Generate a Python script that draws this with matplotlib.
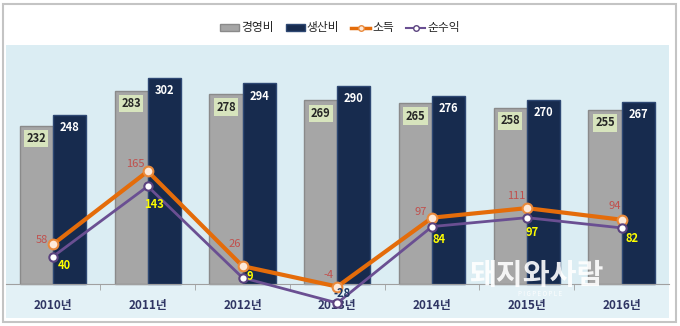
import numpy as np
import matplotlib
matplotlib.use("Agg")
import matplotlib.pyplot as plt
from matplotlib.patches import Rectangle, Patch
from matplotlib.lines import Line2D

plt.rcParams['font.family'] = ['Noto Sans CJK KR', 'DejaVu Sans']

#===================== data =====================
years = ['2010년', '2011년', '2012년', '2013년', '2014년', '2015년', '2016년']
mgmt_cost = [232, 283, 278, 269, 265, 258, 255]     # 경영비
prod_cost = [248, 302, 294, 290, 276, 270, 267]     # 생산비
income = [58, 165, 26, -4, 97, 111, 94]             # 소득
net_profit = [40, 143, 9, -28, 84, 97, 82]          # 순수익

# label offsets in pixels (dx, dy)
inc_off = [(-11, 4), (-12, 7), (-8, 22), (-9, 12), (-11, 6), (-11, 12), (-7, 14)]
net_off = [(11, -9), (6, -18), (7, 1), (5, 9), (7, -13), (5, -15), (10, -11)]

#===================== plot =====================
fig = plt.figure(figsize=(6.8, 3.26), dpi=100)
fig.patch.set_facecolor('white')
fig.patches.append(Rectangle((3/680, 4/326), 673/680, 318/326, transform=fig.transFigure,
                             fill=False, edgecolor='#c4c4c4', lw=1.5))

ax = fig.add_axes([5.6/680, 8/326, 663.4/680, 273/326])
ax.set_facecolor('#dbedf3')
ax.axhspan(-50, 0, color='#e3f1f6', zorder=0)

x = np.arange(len(years))
w = 0.35
ax.bar(x - w/2, mgmt_cost, w, color='#a6a6a6', edgecolor='#8a8a8a', lw=1.0, zorder=2)
ax.bar(x + w/2, prod_cost, w, color='#172b4e', edgecolor='#2e4873', lw=1.0, zorder=2)

for i in range(len(years)):
    ax.annotate(str(mgmt_cost[i]), (x[i] - w/2, mgmt_cost[i]), xytext=(0, -13),
                textcoords='offset pixels', ha='center', va='center', fontsize=8,
                fontweight='bold', color='#262626', zorder=5,
                bbox=dict(boxstyle='square,pad=0.2', fc='#d7e4bd', ec='none'))
    ax.annotate(str(prod_cost[i]), (x[i] + w/2, prod_cost[i]), xytext=(0, -13),
                textcoords='offset pixels', ha='center', va='center', fontsize=8,
                fontweight='bold', color='white', zorder=5)

ax.plot(x, income, color='#e46c0a', lw=3, marker='o', markersize=7,
        markerfacecolor='#fde9d9', markeredgecolor='#e98a3c', markeredgewidth=1.5, zorder=4)
ax.plot(x, net_profit, color='#6a4f92', lw=2, marker='o', markersize=6,
        markerfacecolor='white', markeredgecolor='#5b437f', markeredgewidth=1.5, zorder=4)

for i in range(len(years)):
    ax.annotate(str(income[i]), (x[i], income[i]), xytext=inc_off[i],
                textcoords='offset pixels', ha='center', va='center', fontsize=8,
                color='#c0504d', zorder=6)
    col = '#ffff00' if net_profit[i] >= 0 else '#1f3864'
    ax.annotate(str(net_profit[i]), (x[i], net_profit[i]), xytext=net_off[i],
                textcoords='offset pixels', ha='center', va='center', fontsize=8,
                fontweight='bold', color=col, zorder=6)

ax.set_xlim(-0.5, len(years) - 0.5)
ax.set_ylim(-50, 350)
for s in ['top', 'left', 'right']:
    ax.spines[s].set_visible(False)
ax.spines['bottom'].set_position(('data', 0))
ax.spines['bottom'].set_color('#a0a0a0')
ax.spines['bottom'].set_zorder(3)
ax.set_yticks([])
ax.set_xticks(x)
ax.set_xticklabels(years, fontsize=8.5, fontweight='bold', color='#2f3563')
ax.tick_params(axis='x', which='major', length=0, pad=11)
ax.set_xticks(np.arange(len(years) - 1) + 0.5, minor=True)
ax.tick_params(axis='x', which='minor', length=4, color='#a0a0a0', direction='out')

# watermark
ax.text(536/680, 1 - 275/326, '돼지와사람', transform=fig.transFigure, fontsize=21,
        fontweight='bold', color='white', alpha=0.9, ha='center', va='center', zorder=7)
ax.text(540/680, 1 - 294/326, 'P I G P E O P L E', transform=fig.transFigure, fontsize=4.5,
        color='white', alpha=0.9, ha='center', va='center', zorder=7)

handles = [Patch(facecolor='#a6a6a6', edgecolor='#8a8a8a'),
           Patch(facecolor='#172b4e', edgecolor='#2e4873'),
           Line2D([], [], color='#e46c0a', lw=2.5, marker='o', markersize=4,
                  markerfacecolor='#fde9d9', markeredgecolor='#e98a3c'),
           Line2D([], [], color='#6a4f92', lw=1.5, marker='o', markersize=4,
                  markerfacecolor='white', markeredgecolor='#5b437f')]
fig.legend(handles, ['경영비', '생산비', '소득', '순수익'], loc='center', ncol=4,
           bbox_to_anchor=(0.5, 1 - 28/326), frameon=False, fontsize=8.5,
           handlelength=1.6, handleheight=0.5, handletextpad=0.2, columnspacing=1.0,
           labelcolor='#262626')

plt.savefig('out.png', dpi=100)
